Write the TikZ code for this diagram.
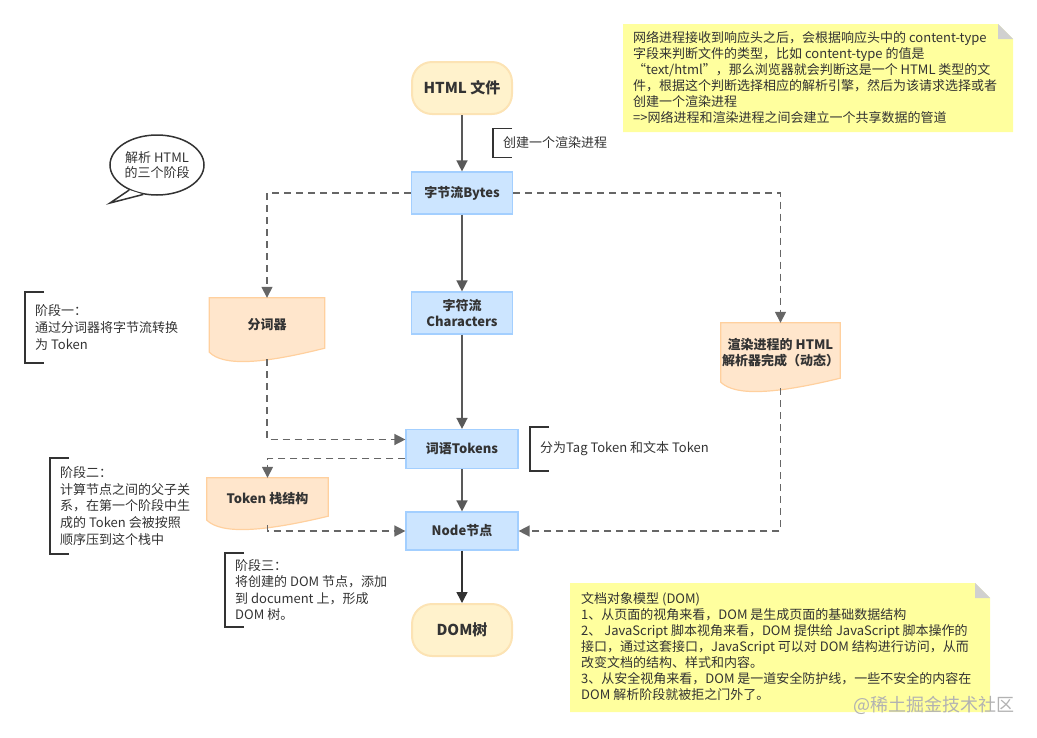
\documentclass[tikz,border=0pt]{standalone}
\usepackage{fontspec}
\setmainfont{Noto Sans CJK SC}
\usetikzlibrary{arrows.meta,shapes.geometric,calc,backgrounds}

\definecolor{blueFill}{HTML}{CCE5FF}
\definecolor{blueLine}{HTML}{A3CFFF}
\definecolor{endFill}{HTML}{FFF2CC}
\definecolor{endLine}{HTML}{FCE3B4}
\definecolor{docFill}{HTML}{FFE6CC}
\definecolor{docLine}{HTML}{FFD09E}
\definecolor{noteFill}{HTML}{FFFF9E}
\definecolor{foldGray}{HTML}{D0D0D0}
\definecolor{lineGray}{HTML}{595959}
\definecolor{dashGray}{HTML}{666666}
\definecolor{textDark}{HTML}{333333}

\newcommand{\labelfont}{\fontsize{13}{16.5}\selectfont\bfseries}
\newcommand{\termfont}{\fontsize{15}{18}\selectfont\bfseries}
\newcommand{\notefont}{\fontsize{13}{15.9}\selectfont}
\newcommand{\stagefont}{\fontsize{13}{16.6}\selectfont}

\tikzset{
  flowbox/.style={draw=blueLine, fill=blueFill, line width=1.2pt, minimum width=101pt,
    minimum height=42pt, align=center, font=\labelfont, text=textDark, inner sep=2pt},
  endbox/.style={draw=endLine, fill=endFill, line width=2pt, rounded corners=20pt,
    minimum width=100pt, minimum height=52pt, align=center, font=\termfont, text=textDark},
  docbox/.style={minimum width=115pt, minimum height=54pt, align=center,
    font=\labelfont, text=textDark, inner sep=1pt},
  docshape/.style={draw=docLine, fill=docFill, line width=1.2pt},
  flow/.style={draw=lineGray, line width=1.5pt, -{Triangle[length=11pt,width=11pt]}},
  dashflow/.style={flow, draw=dashGray, dash pattern=on 7pt off 5pt},
  bracketnote/.style={anchor=west, align=left, inner xsep=10pt, inner ysep=0pt,
    font=\stagefont, text=textDark},
  bracketline/.style={draw=textDark, line width=1.5pt},
  notepaper/.style={fill=noteFill},
  notetext/.style={anchor=west, align=left, inner sep=0pt, font=\notefont, text=textDark}
}

% wavy bottom of the document shapes
\newcommand{\docoutline}[1]{%
  \begin{pgfonlayer}{background}
  \draw[docshape] (#1.north west) -- (#1.north east) -- ([yshift=4pt]#1.south east)
    .. controls ([yshift=-12pt]$(#1.south west)!0.45!(#1.south east)$)
    and ([yshift=-14pt]$(#1.south west)!0.12!(#1.south east)$) .. (#1.south west) -- cycle;
  \end{pgfonlayer}}

% left bracket of a side remark
\newcommand{\bracketon}[1]{%
  \draw[bracketline] ([xshift=19pt]#1.north west) -- (#1.north west)
    -- (#1.south west) -- ([xshift=19pt]#1.south west);}

\begin{document}
\begin{tikzpicture}[x=1pt, y=-1pt]

    \useasboundingbox (0,0) rectangle (1037,737);

    % main column
    \node[endbox] (html) at (462,88) {HTML 文件};
    \node[flowbox] (bytes) at (462,193) {字节流Bytes};
    \node[flowbox] (chars) at (462,313) {字符流\\Characters};
    \node[flowbox, minimum width=112pt, minimum height=39pt] (tokens) at (462,449) {词语Tokens};
    \node[flowbox, minimum width=112pt, minimum height=38pt] (nodept) at (462,531) {Node节点};
    \node[endbox] (dom) at (462,630) {DOM树};

    % document shapes
    \node[docbox] (lexer) at (267,325) {分词器};
    \node[docbox, minimum width=121pt, minimum height=42pt] (stack) at (267.5,499) {Token 栈结构};
    \node[docbox, minimum width=119pt, minimum height=59pt] (parser) at (780.5,352.5)
        {渲染进程的 HTML\\解析器完成（动态）};
    \docoutline{lexer}
    \docoutline{stack}
    \docoutline{parser}

    \draw[flow] (html) -- (bytes);
    \draw[flow] (bytes) -- (chars);
    \draw[flow] (chars) -- (tokens);
    \draw[flow] (tokens) -- (nodept);
    \draw[flow, draw=textDark] (nodept) -- (dom);

    \draw[dashflow] (bytes.west) -| (lexer.north);
    \draw[dashflow] ([yshift=-7pt]lexer.south) |- ([yshift=9.5pt]tokens.west);
    \draw[dashflow] ([yshift=-9.5pt]tokens.west) -| (stack.north);
    \draw[dashflow] ([yshift=-5pt]stack.south) |- (nodept.west);
    \draw[dashflow] (bytes.east) -| (parser.north);
    \draw[dashflow] ([yshift=-6pt]parser.south) |- (nodept.east);

    % side remarks
    \node[bracketnote, minimum height=29pt] (spawn) at (493,143) {创建一个渲染进程};
    \node[bracketnote, minimum height=44pt] (split) at (530,449) {分为Tag Token 和文本 Token};
    \node[bracketnote, minimum height=71pt] (stage1) at (25,327.5)
        {阶段一：\\通过分词器将字节流转换\\为 Token};
    \node[bracketnote, minimum height=96pt] (stage2) at (50,506)
        {阶段二：\\计算节点之间的父子关\\系，在第一个阶段中生\\成的 Token 会被按照\\顺序压到这个栈中};
    \node[bracketnote, minimum height=74pt] (stage3) at (225,590)
        {阶段三：\\将创建的 DOM 节点，添加\\到 document 上，形成\\DOM 树。};
    \bracketon{spawn}
    \bracketon{split}
    \bracketon{stage1}
    \bracketon{stage2}
    \bracketon{stage3}

    % speech bubble
    \node[ellipse, draw=textDark, fill=white, line width=1.5pt, minimum width=94pt,
        minimum height=60pt, inner sep=0pt, align=center,
        font=\fontsize{13}{15.5}\selectfont, text=textDark]
        (talk) at (157,165) {解析 HTML\\的三个阶段};
    \coordinate (tip) at (110,203);
    \fill[white] (talk.222) -- (tip) -- (talk.245) -- cycle;
    \draw[textDark, line width=1.5pt, line join=miter] (talk.222) -- (tip) -- (talk.245);

    % sticky notes
    \fill[notepaper] (623,24) -- (998,24) -- (1013,39) -- (1013,132) -- (623,132) -- cycle;
    \fill[foldGray] (998,24) -- (1013,39) -- (998,39) -- cycle;
    \node[notetext] (note1) at (633,77.5)
        {网络进程接收到响应头之后，会根据响应头中的 content-type\\
         字段来判断文件的类型，比如 content-type 的值是\\
         “text/html”，那么浏览器就会判断这是一个 HTML 类型的文\\
         件，根据这个判断选择相应的解析引擎，然后为该请求选择或者\\
         创建一个渲染进程\\
         =>网络进程和渲染进程之间会建立一个共享数据的管道};

    \fill[notepaper] (570,583) -- (975,583) -- (990,598) -- (990,712) -- (570,712) -- cycle;
    \fill[foldGray] (975,583) -- (990,598) -- (975,598) -- cycle;
    \node[notetext] (note2) at (581,646.5)
        {文档对象模型 (DOM)\\
         1、从页面的视角来看，DOM 是生成页面的基础数据结构\\
         2、 JavaScript 脚本视角来看，DOM 提供给 JavaScript 脚本操作的\\
         接口，通过这套接口，JavaScript 可以对 DOM 结构进行访问，从而\\
         改变文档的结构、样式和内容。\\
         3、从安全视角来看，DOM 是一道安全防护线，一些不安全的内容在\\
         DOM 解析阶段就被拒之门外了。};

    \node[anchor=east, inner sep=0pt, font=\fontsize{18}{20}\selectfont, text=black!30]
        (mark) at (1015,705) {@稀土掘金技术社区};

\end{tikzpicture}
\end{document}
